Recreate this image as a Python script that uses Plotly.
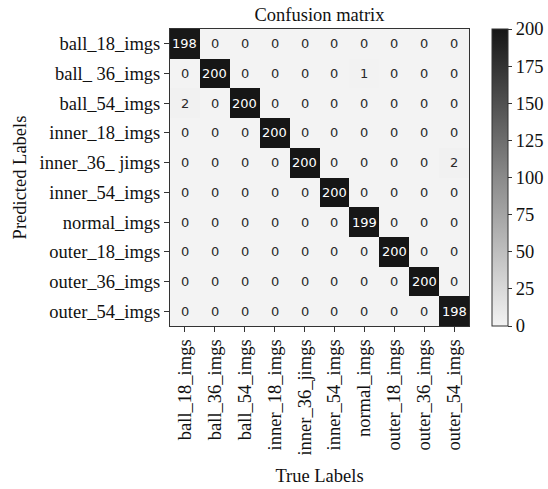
import plotly.graph_objects as go

x_labels = ["ball_18_imgs", "ball_36_imgs", "ball_54_imgs", "inner_18_imgs", "inner_36_jimgs",
            "inner_54_imgs", "normal_imgs", "outer_18_imgs", "outer_36_imgs", "outer_54_imgs"]
y_labels = ["ball_18_imgs", "ball_ 36_imgs", "ball_54_imgs", "inner_18_imgs", "inner_36_ jimgs",
            "inner_54_imgs", "normal_imgs", "outer_18_imgs", "outer_36_imgs", "outer_54_imgs"]

matrix = [
    [198, 0, 0, 0, 0, 0, 0, 0, 0, 0],
    [0, 200, 0, 0, 0, 0, 1, 0, 0, 0],
    [2, 0, 200, 0, 0, 0, 0, 0, 0, 0],
    [0, 0, 0, 200, 0, 0, 0, 0, 0, 0],
    [0, 0, 0, 0, 200, 0, 0, 0, 0, 2],
    [0, 0, 0, 0, 0, 200, 0, 0, 0, 0],
    [0, 0, 0, 0, 0, 0, 199, 0, 0, 0],
    [0, 0, 0, 0, 0, 0, 0, 200, 0, 0],
    [0, 0, 0, 0, 0, 0, 0, 0, 200, 0],
    [0, 0, 0, 0, 0, 0, 0, 0, 0, 198],
]
cbar_ticks = [0, 25, 50, 75, 100, 125, 150, 175, 200]

serif = "Liberation Serif, Times New Roman, serif"
FS = 18.5

fig = go.Figure()
fig.add_trace(go.Heatmap(
    z=matrix, x=x_labels, y=y_labels,
    zmin=0, zmax=200,
    colorscale=[[0, "#f3f3f3"], [0.5, "#8a8a8a"], [1, "#161616"]],
    colorbar=dict(
        x=1.077, xref="paper", xanchor="left", xpad=0,
        y=0, yanchor="bottom", ypad=0, len=1, lenmode="fraction",
        thickness=16, outlinewidth=1, outlinecolor="#333",
        tickvals=cbar_ticks, ticks="outside", ticklen=4, tickcolor="#333",
        tickfont=dict(family=serif, size=FS, color="#111"),
    ),
    hoverinfo="skip",
))

for i, row in enumerate(matrix):
    for j, v in enumerate(row):
        fig.add_annotation(
            x=x_labels[j], y=y_labels[i], text=str(v), showarrow=False,
            font=dict(family="DejaVu Sans, sans-serif", size=13,
                      color="white" if v > 100 else "#2a2a2a"),
        )

fig.update_layout(
    width=548, height=489,
    margin=dict(l=170, r=79, t=29, b=163, autoexpand=False),
    paper_bgcolor="white", plot_bgcolor="white",
    title=dict(text="Confusion matrix", x=0.5, xref="paper", xanchor="center",
               y=1, yref="paper", yanchor="bottom", pad=dict(b=8),
               font=dict(family=serif, size=FS, color="#111")),
    xaxis=dict(
        tickangle=-90, ticks="outside", ticklen=5, tickcolor="#333",
        tickfont=dict(family=serif, size=FS, color="#111"),
        title=dict(text="True Labels", font=dict(family=serif, size=FS, color="#111"), standoff=14),
        showline=True, linecolor="#333", mirror=True, showgrid=False, zeroline=False,
    ),
    yaxis=dict(
        autorange="reversed", ticks="outside", ticklen=5, tickcolor="#333",
        tickfont=dict(family=serif, size=FS, color="#111"),
        title=dict(text="Predicted Labels", font=dict(family=serif, size=FS, color="#111"), standoff=8),
        showline=True, linecolor="#333", mirror=True, showgrid=False, zeroline=False,
    ),
)

fig.write_html("out.html")
